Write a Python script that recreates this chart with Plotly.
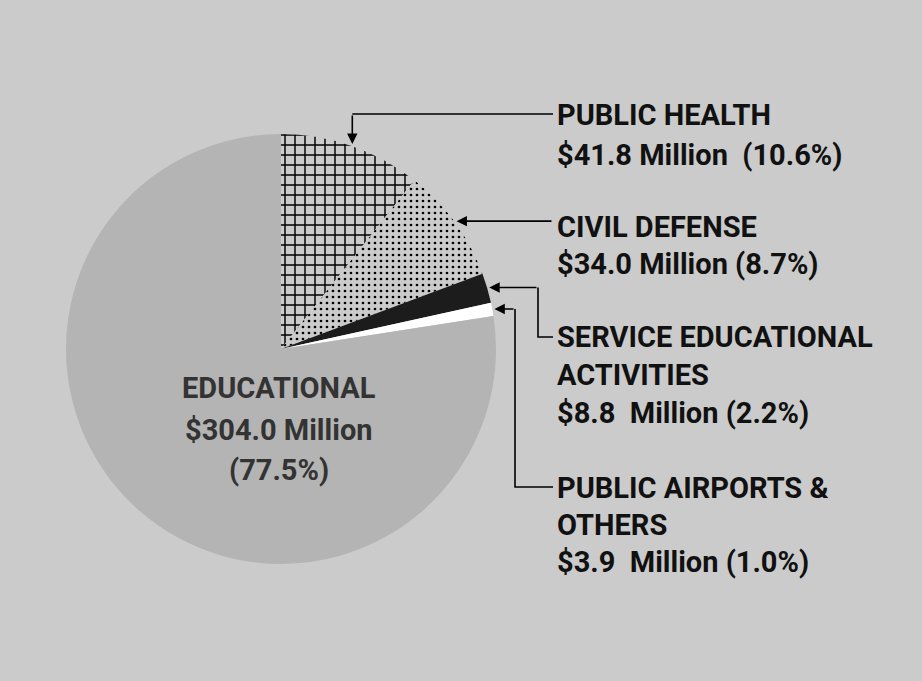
import math
import plotly.graph_objects as go

W, H = 922, 681

# ---- data ----
categories = ["PUBLIC HEALTH", "CIVIL DEFENSE", "SERVICE EDUCATIONAL ACTIVITIES",
              "PUBLIC AIRPORTS & OTHERS", "EDUCATIONAL"]
values = [41.8, 34.0, 8.8, 3.9, 304.0]          # $ million
percents = ["10.6%", "8.7%", "2.2%", "1.0%", "77.5%"]
label_lines = [
    ["PUBLIC HEALTH", "$41.8 Million  (10.6%)"],
    ["CIVIL DEFENSE", "$34.0 Million (8.7%)"],
    ["SERVICE EDUCATIONAL", "ACTIVITIES", "$8.8  Million (2.2%)"],
    ["PUBLIC AIRPORTS &", "OTHERS", "$3.9  Million (1.0%)"],
    ["EDUCATIONAL", "$304.0 Million", "(77.5%)"],
]

# ---- styling ----
slice_colors = ["white", "white", "#1c1c1c", "white", "#b4b4b4"]
slice_patterns = ["+", ".", "", "", ""]
BG = "#cbcbcb"
FONT = "Roboto, Liberation Sans Narrow, DejaVu Sans Condensed, sans-serif"

# pie geometry in pixels
CX, CY, R = 281, 349, 215


def px(x):
    return x / W


def py(y):
    return 1 - y / H


fig = go.Figure()
fig.add_trace(go.Pie(
    values=values,
    labels=categories,
    sort=False,
    direction="clockwise",
    rotation=0,
    textinfo="none",
    hoverinfo="label+value+percent",
    showlegend=False,
    marker=dict(
        colors=slice_colors,
        line=dict(width=0),
        pattern=dict(shape=slice_patterns, fgcolor="black",
                     size=[10, 6, 8, 8, 8], solidity=[0.27, 0.16, 0.2, 0.2, 0.2],
                     fillmode="replace"),
    ),
    domain=dict(x=[px(CX - R), px(CX + R)], y=[py(CY + R), py(CY - R)]),
))

# slice mid-angles (clockwise from 12 o'clock) computed from values
total = sum(values)
mids = []
cum = 0
for v in values:
    mids.append((cum + v / 2) / total * 360)
    cum += v


def tip(i, rr=1.01):
    a = math.radians(mids[i])
    return CX + R * rr * math.sin(a), CY - R * rr * math.cos(a)


shapes = []
annotations = []
TX = 555  # text left edge


def seg(points):
    path = "M " + " L ".join(f"{px(x)},{py(y)}" for x, y in points)
    shapes.append(dict(type="path", path=path, xref="paper", yref="paper",
                       line=dict(color="black", width=1.6)))


def arrow(x, y, ax, ay):
    annotations.append(dict(x=px(x), y=py(y), xref="paper", yref="paper",
                            ax=ax, ay=ay, axref="pixel", ayref="pixel",
                            text="", showarrow=True, arrowhead=2, arrowsize=1.3,
                            arrowwidth=1.6, arrowcolor="black"))


# Public health: down arrow from horizontal line
tx, ty = tip(0)
line_y = 114
seg([(tx, line_y), (TX - 2, line_y)])
arrow(tx, ty, 0, line_y - ty)

# Civil defense: straight horizontal
tx, ty = tip(1)
arrow(tx, ty, TX - 2 - tx, 0)

# Service educational
tx, ty = tip(2)
seg([(538, ty), (538, 337), (TX - 2, 337)])
arrow(tx, ty, 538 - tx, 0)

# Public airports
tx, ty = tip(3)
seg([(515, ty), (515, 487), (TX - 2, 487)])
arrow(tx, ty, 515 - tx, 0)

# right-hand labels
line_ys = [[115, 155], [227, 264], [337, 375, 413], [488, 525, 562]]
for lines, ys in zip(label_lines[:4], line_ys):
    for t, y in zip(lines, ys):
        annotations.append(dict(x=px(TX), y=py(y), xref="paper", yref="paper",
                                xanchor="left", yanchor="middle", showarrow=False,
                                text=f"<b>{t}</b>",
                                font=dict(family=FONT, size=29, color="#111111")))

# label inside the educational slice
for t, y in zip(label_lines[4], [388, 430, 470]):
    annotations.append(dict(x=px(279), y=py(y), xref="paper", yref="paper",
                            xanchor="center", yanchor="middle", showarrow=False,
                            text=f"<b>{t}</b>",
                            font=dict(family=FONT, size=29, color="#333333")))

fig.update_layout(
    width=W, height=H,
    margin=dict(l=0, r=0, t=0, b=0),
    paper_bgcolor=BG, plot_bgcolor=BG,
    shapes=shapes, annotations=annotations,
)

fig.write_html("out.html",
               config={"displayModeBar": False},
               post_script="document.body.style.margin='0';document.body.style.background='%s';" % BG)
